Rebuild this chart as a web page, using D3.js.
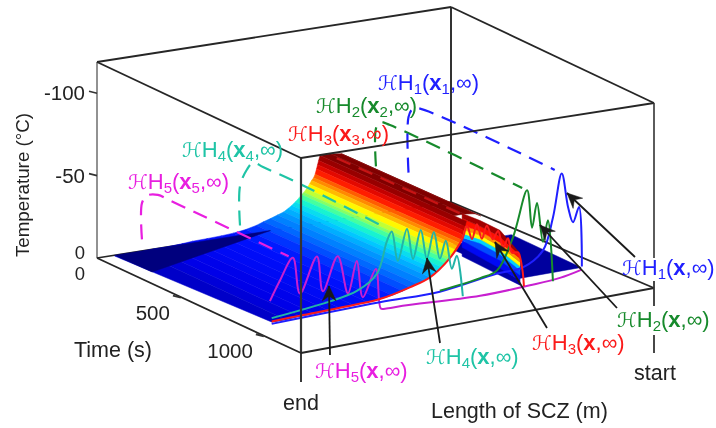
<!DOCTYPE html>
<html>
<head>
<meta charset="utf-8">
<script src="https://d3js.org/d3.v7.min.js"></script>
<style>
  html, body { margin: 0; padding: 0; background: #fff; }
  svg { display: block; filter: blur(0.55px); font-family: 'Liberation Sans', Arial, sans-serif; }
</style>
</head>
<body>
<div id="chart"></div>
<script>
// length is a fraction of the SCZ measured from the "end" side, time in s, temperature in degC
const timeTicks = [0, 500, 1000];
const tempTicks = [0, -50, -100];
const END_TIME = 885;

// swept surface: temperature profile along the length
const surfaceLength = [0.08, 0.12, 0.16, 0.2, 0.24, 0.27, 0.31, 0.35, 0.385, 0.42, 0.45, 0.47, 0.49, 0.51, 0.527, 0.54, 0.55, 0.56, 0.57, 0.578, 0.584, 0.592, 0.6, 0.606, 0.612, 0.616, 0.62, 0.623, 0.626, 0.63];
const surfaceTemp = [0.5, 0.5, 0, 0, -0.5, -1, -1.2, -1.5, -2, -3, -4.5, -6, -7.3, -8.8, -10, -11.8, -13.2, -15, -17, -18.8, -20, -22, -24.5, -26.5, -28, -30, -33, -35.5, -38, -41];

// crest behind the main face, cut off before the end time
const crestLength = [0.63, 0.66, 0.69, 0.706];
const crestTemp = [-41, -41, -40, -38];
const crestEndTime = 810;

// cold wedge near the start of the run
const wedgeLength = [0.05, 0.0526, 0.49];
const wedgeTime = [0, 220, 0];

// far floor region behind the ridge
const farLength = [0.97, 0.955, 0.78, 0.78];
const farTime = [430, 885, 885, 430];

// bands on the right of the ridge, lower to upper boundary
const bandLength = [0.618, 0.669, 0.725, 0.782];
const bandBoundaries = [
  [-19.6, -12, -3.6, 4.8],
  [-25.2, -17, -8, 1.7],
  [-29.6, -21.4, -13, -1.4],
  [-31.4, -25.8, -16.8, -4.6],
  [-34, -28.3, -19.3, -7],
  [-36.4, -30.8, -21.8, -9.6],
  [-39, -33.3, -24.3, -12],
  [-43.3, -36.4, -28, -14],
  [-46.4, -40, -31.8, -15],
];
const bandTemp = [1, -1, -5, -13, -23, -27, -32, -39];

// profiles at t = infinity
const h1Length = [0.079, 0.385, 0.555, 0.717, 0.79, 0.847, 0.875, 0.9, 0.918, 0.932, 0.949, 0.957];
const h1Temp = [1.5, 0, 0, -5, -6, -14.5, -34, -61, -39, -29, -38, 0];
const h2Length = [0.555, 0.669, 0.717, 0.762, 0.802, 0.816, 0.83, 0.847, 0.861, 0.875];
const h2Temp = [-0.6, -4, -7, -26, -54, -30, -45, -20, -33, 6];
const h3Length = [0.079, 0.159, 0.272, 0.385, 0.47, 0.527, 0.584, 0.612, 0.62, 0.632, 0.646, 0.66, 0.674, 0.688, 0.705, 0.72, 0.734, 0.748, 0.759, 0.776, 0.788, 0.793];
const h3Temp = [0, -0.5, -1, -2, -6, -10, -20, -28, -31, -38, -29.4, -38, -28.4, -36, -27, -31.6, -20.5, -26, -16.5, -16, -5.5, 6];
const h4Length = [0.079, 0.244, 0.32, 0.377, 0.405, 0.419, 0.436, 0.462, 0.479, 0.501, 0.518, 0.538, 0.555, 0.572, 0.589, 0.603, 0.62];
const h4Temp = [-2, -6, -9.5, -18, -37, -42.6, -23.7, -42.5, -23.3, -40.4, -22, -37.8, -20.6, -31, -13, -20.6, 5.4];
const h5Length = [0.074, 0.102, 0.139, 0.159, 0.207, 0.224, 0.266, 0.295, 0.32, 0.337, 0.374, 0.388, 0.4, 0.45, 0.669, 0.81, 0.895, 0.955];
const h5Temp = [-12.6, -24, -36.7, -14, -35, -13, -33, -9, -28, -5, -21, 4, 4.5, 4.7, 7, 6, 4.7, 2];

// initial-to-final histories at fixed length (dashed)
const d1Length = 0.88;
const d1Time = [0, 0, 25, 60, 885];
const d1Temp = [-22, -56, -62, -64, -64];
const d2Length = 0.788;
const d2Time = [0, 0, 25, 85, 885];
const d2Temp = [-29, -52, -57, -58, -56];
const d3Length = 0.66;
const d3Time = [37, 780];
const d3Temp = [-40, -40];
const d4Length = 0.404;
const d4Time = [0, 0, 42, 80, 139, 363, 885];
const d4Temp = [-6, -30, -42, -48, -48, -48, -45];
const d5Length = 0.127;
const d5Time = [0, 0, 30, 96, 168, 885];
const d5Temp = [-7, -29, -35, -38.5, -38.5, -38];

const W = 716;
const H = 428;
const COLOR_H1 = '#1f1fff';
const COLOR_H2 = '#178a2c';
const COLOR_H3 = '#fb1a1a';
const COLOR_H4 = '#1fc4a6';
const COLOR_H5 = '#e81fe0';

// corners of the box: [length, time] -> floor point, and the box height there
const CORNER_A = { x: 97, y: 258, h: 196 };
const CORNER_B = { x: 301, y: 353, h: 195 };
const CORNER_C = { x: 654, y: 288, h: 185 };
const CORNER_D = { x: 451, y: 202, h: 195 };

const lengthScale = d3.scaleLinear().domain([0, 1]).range([0, 1]);
const timeScale = d3.scaleLinear().domain([0, 1230]).range([0, 1]);
const tempScale = d3.scaleLinear().domain([0, -119]).range([0, 1]);

const colorScale = d3
  .scaleLinear()
  .domain([1, 0, -2, -7, -13, -17, -20, -23, -27, -32, -37, -41])
  .range(['#0000a8', '#0000e8', '#0012ff', '#0070ff', '#00d0ff', '#20ffc0', '#a0ff50', '#ffff00', '#ff9000', '#ff1000', '#c00000', '#800000'])
  .clamp(true);

function project(length, time, temp) {
  const l = lengthScale(length);
  const t = timeScale(time);
  const blend = (k) =>
    (1 - l) * (1 - t) * CORNER_A[k] + (1 - l) * t * CORNER_B[k] + l * t * CORNER_C[k] + l * (1 - t) * CORNER_D[k];
  return [blend('x'), blend('y') - tempScale(temp) * blend('h')];
}

const svg = d3.select('#chart').append('svg').attr('width', W).attr('height', H);

drawBackBox();
drawSurface();
drawHistories();
drawProfiles();
drawFrontBox();
drawArrows();
drawAxisText();
drawHeatLabels();

function boxLine(a, b, width = 1.8, color = '#262626') {
  svg
    .append('line')
    .attr('x1', a[0])
    .attr('y1', a[1])
    .attr('x2', b[0])
    .attr('y2', b[1])
    .attr('stroke', color)
    .attr('stroke-width', width);
}

function drawBackBox() {
  const maxTemp = tempScale.domain()[1];
  const maxTime = timeScale.domain()[1];
  boxLine(project(0, 0, 0), project(0, 0, maxTemp), 1.6, '#777');
  boxLine(project(1, 0, 0), project(1, 0, maxTemp), 2, '#333');
  boxLine(project(0, 0, 0), project(1, 0, 0), 1.6);
  boxLine(project(1, 0, 0), project(1, maxTime, 0));
  boxLine(project(0, 0, maxTemp), project(1, 0, maxTemp));
  boxLine(project(1, 0, maxTemp), project(1, maxTime, maxTemp));

  tempTicks.slice(1).forEach((temp) => {
    const p = project(0, 0, temp);
    boxLine([p[0] - 8, p[1] - 2], p, 1.6, '#333');
  });
}

function polygon(points, fill) {
  svg
    .append('polygon')
    .attr('points', points.map((p) => p.join(',')).join(' '))
    .attr('fill', fill)
    .attr('stroke', fill)
    .attr('stroke-width', 0.5);
}

function drawSurface() {
  // painted far to near, the viewer sits on the low-length, late-time side
  polygon(farLength.map((l, i) => project(l, farTime[i], 0.5)), '#00009e');

  for (let i = crestLength.length - 1; i > 0; i--) {
    polygon(
      [
        project(crestLength[i], 0, crestTemp[i]),
        project(crestLength[i - 1], 0, crestTemp[i - 1]),
        project(crestLength[i - 1], crestEndTime, crestTemp[i - 1]),
        project(crestLength[i], crestEndTime, crestTemp[i]),
      ],
      colorScale(-41),
    );
  }

  bandTemp.forEach((temp, b) => {
    const lower = bandBoundaries[b].map((v, i) => project(bandLength[i], END_TIME, v));
    const upper = bandBoundaries[b + 1].map((v, i) => project(bandLength[i], END_TIME, v));
    polygon(lower.concat(upper.reverse()), colorScale(temp));
  });

  for (let i = surfaceLength.length - 1; i > 0; i--) {
    const lengthAtZero = i === 1 ? 0.05 : surfaceLength[i - 1];
    polygon(
      [
        project(surfaceLength[i], 0, surfaceTemp[i]),
        project(lengthAtZero, 0, surfaceTemp[i - 1]),
        project(surfaceLength[i - 1], END_TIME, surfaceTemp[i - 1]),
        project(surfaceLength[i], END_TIME, surfaceTemp[i]),
      ],
      colorScale((surfaceTemp[i] + surfaceTemp[i - 1]) / 2),
    );
  }

  polygon(wedgeLength.map((l, i) => project(l, wedgeTime[i], 0)), '#00007e');
}

function drawHistories() {
  const line = d3.line().curve(d3.curveCatmullRom.alpha(0.5));
  const histories = [
    [d5Length, d5Time, d5Temp, COLOR_H5],
    [d4Length, d4Time, d4Temp, COLOR_H4],
    [d3Length, d3Time, d3Temp, '#c81414'],
    [d2Length, d2Time, d2Temp, COLOR_H2],
    [d1Length, d1Time, d1Temp, COLOR_H1],
  ];
  histories.forEach(([length, times, temps, color]) => {
    svg
      .append('path')
      .attr('d', line(times.map((t, i) => project(length, t, temps[i]))))
      .attr('fill', 'none')
      .attr('stroke', color)
      .attr('stroke-width', 2.2)
      .attr('stroke-dasharray', '15,9');
  });
}

function drawProfiles() {
  const line = d3.line().curve(d3.curveCatmullRom.alpha(0.5));
  const profiles = [
    [h5Length, h5Temp, '#c81fd0'],
    [h1Length, h1Temp, COLOR_H1],
    [h2Length, h2Temp, COLOR_H2],
    [h3Length, h3Temp, COLOR_H3],
    [h4Length, h4Temp, '#22b4a8'],
  ];
  profiles.forEach(([lengths, temps, color]) => {
    svg
      .append('path')
      .attr('d', line(lengths.map((l, i) => project(l, END_TIME, temps[i]))))
      .attr('fill', 'none')
      .attr('stroke', color)
      .attr('stroke-width', 2);
  });
}

function drawFrontBox() {
  const maxTemp = tempScale.domain()[1];
  const maxTime = timeScale.domain()[1];
  boxLine(project(0, maxTime, 0), project(0, maxTime, maxTemp), 2.2, '#333');
  boxLine(project(0, 0, 0), project(0, maxTime, 0));
  boxLine(project(0, maxTime, 0), project(1, maxTime, 0));
  boxLine(project(0, maxTime, maxTemp), project(1, maxTime, maxTemp));
  boxLine(project(0, maxTime, maxTemp), project(0, 0, maxTemp));

  // end marker below the floor
  const end = project(0, maxTime, 0);
  boxLine(end, [end[0], end[1] + 29], 1.8, '#222');

  // the start edge has gaps where the labels cross it
  const start = project(1, maxTime, 0);
  const top = project(1, maxTime, maxTemp);
  boxLine(top, [top[0], start[1] - 30], 1.6, '#333');
  boxLine([start[0], start[1] - 7], [start[0], start[1] + 18], 1.8, '#333');
  boxLine([start[0], start[1] + 47], [start[0], start[1] + 65], 1.8, '#333');

  timeTicks.slice(1).forEach((time) => {
    const p = project(0, time, 0);
    boxLine([p[0] - 7, p[1] - 1], [p[0] + 1, p[1] + 1], 2, '#333');
  });
}

function drawArrows() {
  const arrows = [
    [[635, 257], [567, 193]],
    [[617, 308], [540, 225]],
    [[547, 328], [495, 242]],
    [[440, 343], [427, 258]],
    [[330, 355], [329, 286]],
  ];
  arrows.forEach(([tail, tip]) => {
    boxLine(tail, tip, 1.8, '#1a1a1a');
    const angle = Math.atan2(tail[1] - tip[1], tail[0] - tip[0]);
    const at = (dist, side) => [
      tip[0] + dist * Math.cos(angle) - side * Math.sin(angle),
      tip[1] + dist * Math.sin(angle) + side * Math.cos(angle),
    ];
    polygon([tip, at(15, 7), at(10, 0), at(15, -7)], '#1a1a1a');
  });
}

function axisText(x, y, text, anchor = 'start', size = 21.5) {
  return svg
    .append('text')
    .attr('x', x)
    .attr('y', y)
    .attr('text-anchor', anchor)
    .attr('font-size', size)
    .attr('fill', '#222')
    .text(text);
}

function drawAxisText() {
  tempTicks.forEach((temp) => {
    const p = project(0, 0, temp);
    if (temp === 0) axisText(p[0] - 12, p[1] + 1, temp, 'end', 18.5);
    else axisText(p[0] - 12, p[1] + 7, temp, 'end', 20.5);
  });
  timeTicks.forEach((time) => {
    const p = project(0, time, 0);
    if (time === 0) axisText(p[0] - 12, p[1] + 22, time, 'end', 18.5);
    else axisText(p[0] - 10, p[1] + 23, time, 'end', 20.5);
  });
  axisText(74, 357, 'Time (s)');
  axisText(431, 418, 'Length of SCZ (m)');
  axisText(301, 410, 'end', 'middle');
  axisText(655, 380, 'start', 'middle');
  axisText(0, 0, 'Temperature (°C)', 'middle', 18.8).attr('transform', 'translate(29,185) rotate(-90)');
}

function heatLabel(x, y, color, index, atSensor) {
  const text = svg.append('text').attr('x', x).attr('y', y).attr('font-size', 22).attr('fill', color);
  text.append('tspan').attr('font-family', 'DejaVu Sans').attr('font-size', 20).text('ℋ');
  text.append('tspan').text('H');
  text.append('tspan').attr('dy', 4).attr('font-size', 15).text(index);
  text.append('tspan').attr('dy', -4).text('(');
  text.append('tspan').attr('font-weight', 'bold').text('x');
  if (atSensor) {
    text.append('tspan').attr('dy', 4).attr('font-size', 15).text(index);
    text.append('tspan').attr('dy', -4).text(',∞)');
  } else {
    text.append('tspan').text(',∞)');
  }
}

function drawHeatLabels() {
  const colors = [COLOR_H1, COLOR_H2, COLOR_H3, COLOR_H4, COLOR_H5];
  const initialAt = [[378, 90], [316, 113], [288, 141], [182, 157], [128, 189]];
  const finalAt = [[622, 275], [617, 327], [532, 350], [426, 364], [315, 378]];
  colors.forEach((color, i) => {
    heatLabel(initialAt[i][0], initialAt[i][1], color, i + 1, true);
    heatLabel(finalAt[i][0], finalAt[i][1], color, i + 1, false);
  });
}
</script>
</body>
</html>
